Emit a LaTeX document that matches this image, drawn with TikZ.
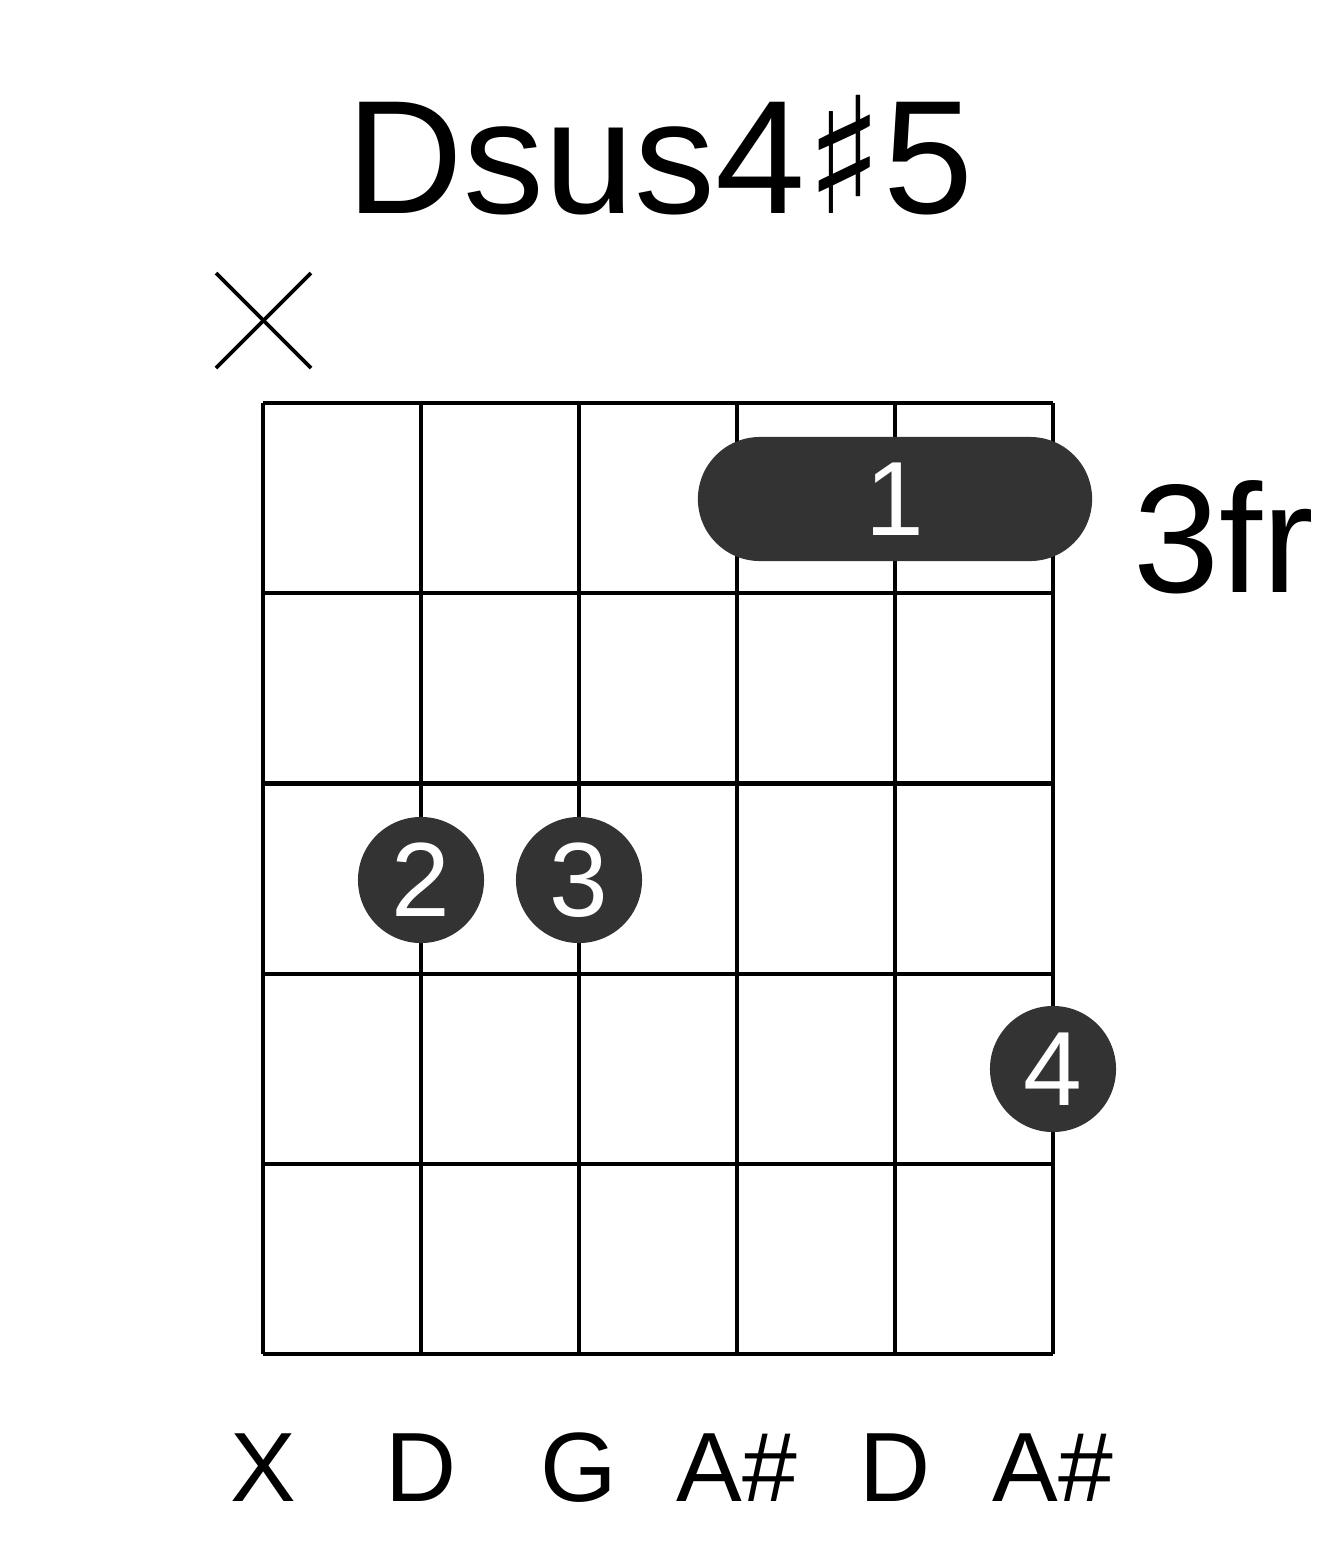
\documentclass[tikz,border=0pt]{standalone}
\usepackage{fontspec}
\setmainfont{Liberation Sans}
\newfontfamily\symfont{DejaVu Sans}
\usetikzlibrary{positioning}
\tikzset{
  fret/.style={line width=1.2pt,black},
  finger/.style={circle,fill=black!80,minimum size=1.26cm,inner sep=0pt,text=white,font=\fontsize{30}{30}\selectfont},
  strname/.style={font=\fontsize{28}{28}\selectfont},
}
\begin{document}
\begin{tikzpicture}[x=0.01cm,y=-0.01cm]
\useasboundingbox (0,0) rectangle (1317,1551);

	\node[font=\fontsize{46}{46}\selectfont] (title) at (660,155) {Dsus4{\symfont ♯}5};

	% grid
	\foreach \i in {0,...,5} {
	\draw[fret] (263+158*\i,403) -- (263+158*\i,1354);
	\draw[fret] (263,403+190.2*\i) -- (1053,403+190.2*\i);
	}

	% muted string
	\coordinate (xa) at (216,273);
	\coordinate (xb) at (311,368);
	\coordinate (xc) at (311,273);
	\coordinate (xd) at (216,368);
	\draw[line width=1.1pt] (xa) -- (xb);
	\draw[line width=1.1pt] (xc) -- (xd);

	% barre
	\node[fill=black!80,rounded corners=0.62cm,minimum width=3.94cm,minimum height=1.24cm,inner sep=0pt] (barre) at (895,499) {};
	\node[text=white,font=\fontsize{30}{30}\selectfont] (f1) at (895,499) {1};

	\node[finger] (f2) at (421,880) {2};
	\node[finger] (f3) at (579,880) {3};
	\node[finger] (f4) at (1053,1069) {4};

	\node[anchor=west,font=\fontsize{44}{44}\selectfont,inner sep=0pt] (pos) at (1133,537) {3fr};

	% string names
	\foreach \n [count=\k from 0] in {X,D,G,A\#,D,A\#}
	\node[strname] (s\k) at (263+158*\k,1468) {\n};

\end{tikzpicture}
\end{document}
